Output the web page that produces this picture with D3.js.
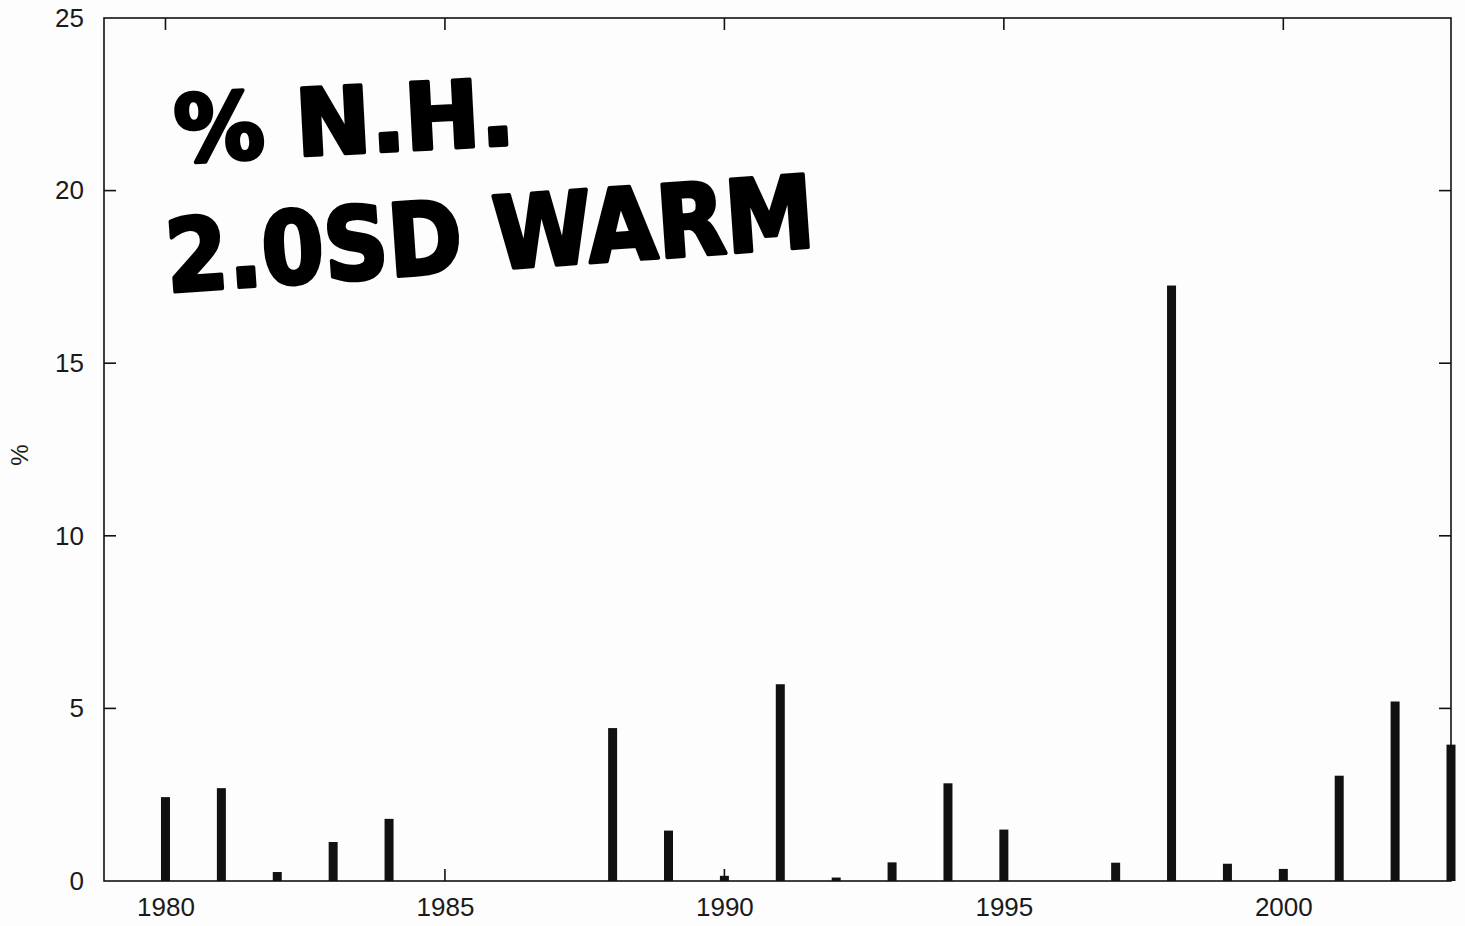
<!DOCTYPE html>
<html lang="en">
<head>
<meta charset="utf-8">
<title>% N.H. 2.0SD warm</title>
<style>
    body { margin: 0; background-color: #fdfdfd; }
    .axis text { font: 26px "Liberation Sans", Arial, sans-serif; fill: #1a1a1a; }
    .frame { fill: none; stroke: #111; stroke-width: 1.6px; }
    .tick-mark { stroke: #111; stroke-width: 1.6px; }
    .bar { fill: #111; }
    .note { font-family: "DejaVu Sans", sans-serif; font-weight: bold; fill: #000; stroke: #000; stroke-width: 4px; stroke-linejoin: round; }
</style>
</head>
<body>
<script src="https://d3js.org/d3.v7.min.js"></script>
<svg width="1465" height="926"></svg>
<script>
    // data
    var years = [1980, 1981, 1982, 1983, 1984, 1985, 1986, 1987, 1988, 1989, 1990, 1991,
                 1992, 1993, 1994, 1995, 1996, 1997, 1998, 1999, 2000, 2001, 2002, 2003];
    var percent = [2.43, 2.69, 0.26, 1.13, 1.8, 0, 0, 0, 4.43, 1.46, 0.15, 5.7,
                   0.1, 0.54, 2.83, 1.49, 0, 0.53, 17.25, 0.5, 0.35, 3.05, 5.2, 3.95];
    var yTicks = [0, 5, 10, 15, 20, 25];
    var xTicks = [1980, 1985, 1990, 1995, 2000];
    var noteLines = ["% N.H.", "2.0SD WARM"];

    var svg = d3.select("svg");

    var margin = { top: 18, right: 14, bottom: 45, left: 104 },
        width = +svg.attr("width") - margin.left - margin.right,
        height = +svg.attr("height") - margin.top - margin.bottom;

    var x = d3.scaleLinear().domain([1978.9, 2003.0]).range([0, width]);
    var y = d3.scaleLinear().domain([0, 25]).range([height, 0]);

    var g = svg.append("g")
        .attr("transform", "translate(" + margin.left + "," + margin.top + ")");

    // bars
    g.selectAll(".bar")
        .data(years.map(function(d, i) { return { year: d, value: percent[i] }; })
            .filter(function(d) { return d.value > 0; }))
        .enter()
        .append("rect")
        .attr("class", "bar")
        .attr("x", function(d) { return x(d.year) - 4.5; })
        .attr("width", 9)
        .attr("y", function(d) { return y(d.value); })
        .attr("height", function(d) { return height - y(d.value); });

    // left axis labels
    g.append("g")
        .attr("class", "axis")
        .call(d3.axisLeft(y).tickValues(yTicks).tickSize(0).tickPadding(20))
        .call(function(a) { a.select(".domain").remove(); });

    // bottom axis labels
    g.append("g")
        .attr("class", "axis")
        .attr("transform", "translate(0," + height + ")")
        .call(d3.axisBottom(x).tickValues(xTicks).tickFormat(d3.format("d")).tickSize(0).tickPadding(17))
        .call(function(a) { a.select(".domain").remove(); });

    // inward tick marks on all four sides
    var inner = yTicks.slice(1, -1);
    g.selectAll(".ly").data(inner).enter().append("line").attr("class", "tick-mark")
        .attr("x1", 0).attr("x2", 12).attr("y1", y).attr("y2", y);
    g.selectAll(".ry").data(inner).enter().append("line").attr("class", "tick-mark")
        .attr("x1", width).attr("x2", width - 12).attr("y1", y).attr("y2", y);
    g.selectAll(".tx").data(xTicks).enter().append("line").attr("class", "tick-mark")
        .attr("x1", x).attr("x2", x).attr("y1", 0).attr("y2", 12);
    g.selectAll(".bx").data(xTicks).enter().append("line").attr("class", "tick-mark")
        .attr("x1", x).attr("x2", x).attr("y1", height).attr("y2", height - 12);

    // frame
    g.append("rect").attr("class", "frame")
        .attr("width", width).attr("height", height);

    // y label
    svg.append("text")
        .attr("transform", "translate(28,455) rotate(-90)")
        .attr("text-anchor", "middle")
        .style("font", "24px 'Liberation Sans', Arial, sans-serif")
        .style("fill", "#1a1a1a")
        .text("%");

    // handwritten note
    svg.append("text").attr("class", "note")
        .attr("x", 176).attr("y", 162)
        .attr("transform", "rotate(-3,176,162)")
        .attr("font-size", 92)
        .attr("textLength", 340).attr("lengthAdjust", "spacingAndGlyphs")
        .text(noteLines[0]);
    svg.append("text").attr("class", "note")
        .attr("x", 168).attr("y", 292)
        .attr("transform", "rotate(-4,168,292)")
        .attr("font-size", 100)
        .attr("textLength", 650).attr("lengthAdjust", "spacingAndGlyphs")
        .text(noteLines[1]);
</script>
</body>
</html>
